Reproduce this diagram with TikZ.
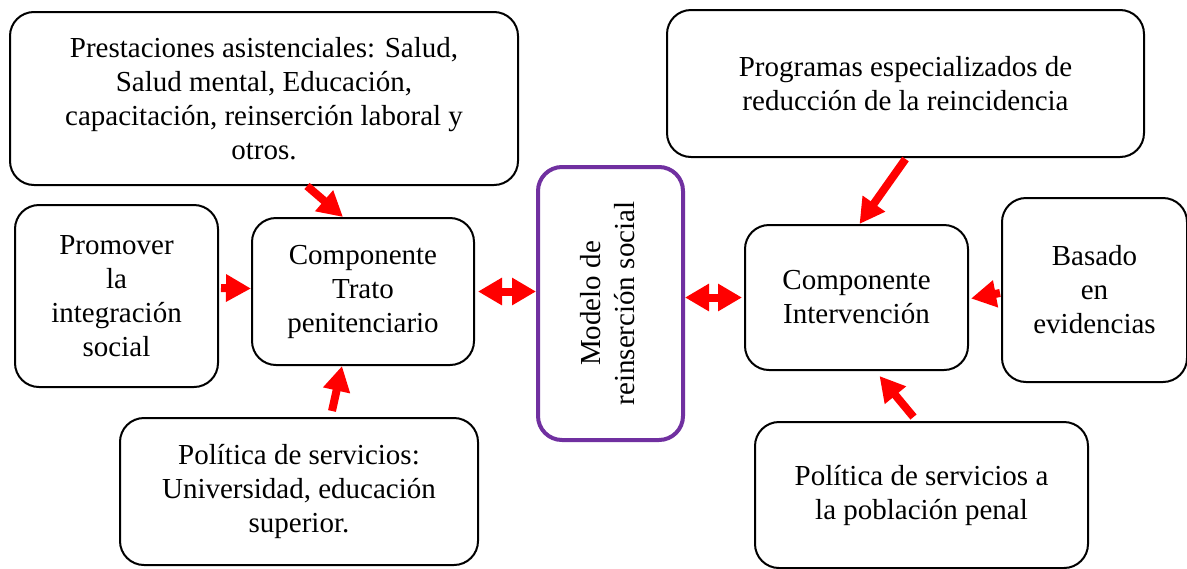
\documentclass[tikz,border=0pt]{standalone}
\usepackage{fontspec}
\setmainfont{Liberation Serif}
\usepackage{tikz}
\usetikzlibrary{arrows.meta, calc, positioning}
\definecolor{morado}{HTML}{7030A0}

\begin{document}
\begin{tikzpicture}[x=0.5pt, y=-0.5pt,
	caja/.style={draw, line width=1pt, rounded corners=12pt, align=center, inner sep=0pt,
		font=\fontsize{14.5}{17}\selectfont},
	modelobox/.style={caja, draw=morado, line width=2pt},
	flecha/.style={red, line width=4pt, -{Triangle[length=12.5pt,width=13pt]}},
	flechados/.style={red, line width=4pt, {Triangle[length=12pt,width=13pt]}-{Triangle[length=12pt,width=13pt]}}]
	\useasboundingbox (0,0) rectangle (1187,568);
			\node[caja, minimum width=254pt, minimum height=86.5pt] (prest) at (264,98.5)
				{Prestaciones asistenciales: Salud,\\Salud mental, Educación,\\capacitación, reinserción laboral y\\otros.};
			\node[caja, minimum width=101.5pt, minimum height=91pt] (prom) at (116.5,296)
				{Promover\\la\\integración\\social};
			\node[caja, minimum width=111pt, minimum height=73.5pt] (trato) at (363,291.5)
				{Componente\\Trato\\penitenciario};
			\node[caja, minimum width=179pt, minimum height=73.5pt] (polI) at (299,491.5)
				{Política de servicios:\\Universidad, educación\\superior.};
			\node[modelobox, minimum width=72.5pt, minimum height=136.5pt] (modelo) at (610.5,303.5)
				{\rotatebox{90}{\begin{tabular}{@{}c@{}}Modelo de\\reinserción social\end{tabular}}};
			\node[caja, minimum width=238.5pt, minimum height=73.5pt] (prog) at (905.5,83.5)
				{Programas especializados de\\reducción de la reincidencia};
			\node[caja, minimum width=111.5pt, minimum height=72.5pt] (interv) at (856.5,297.5)
				{Componente\\Intervención};
			\node[caja, minimum width=92.5pt, minimum height=92pt] (basado) at (1094.5,290)
				{Basado\\en\\evidencias};
			\node[caja, minimum width=166.5pt, minimum height=73pt] (polD) at (921.5,495)
				{Política de servicios a\\la población penal};
			% flechas hacia los componentes
			\draw[flecha] ($(prest.south)+(43,0)$) -- ($(trato.north)+(-20,0)$);
			\draw[flecha] ($(prom.east)+(2,-8)$) -- ($(trato.west)+(0,-3)$);
			\draw[flecha] ($(polI.north)+(33,-6)$) -- ($(trato.south)+(-21,0)$);
			\draw[flecha] ($(prog.south)+(0,1)$) -- ($(interv.north)+(3,0)$);
			\draw[flecha] ($(basado.west)+(-1,3)$) -- ($(interv.east)+(2,1)$);
			\draw[flecha] ($(polD.north)+(-8,-4)$) -- ($(interv.south)+(23,5)$);
			% flechas dobles con el modelo
			\draw[flechados] ($(trato.east)+(3,0)$) -- (trato.east -| modelo.west);
			\draw[flechados] (modelo.east |- interv.west) -- ($(interv.west)+(-2,0)$);
		\end{tikzpicture}
\end{document}
